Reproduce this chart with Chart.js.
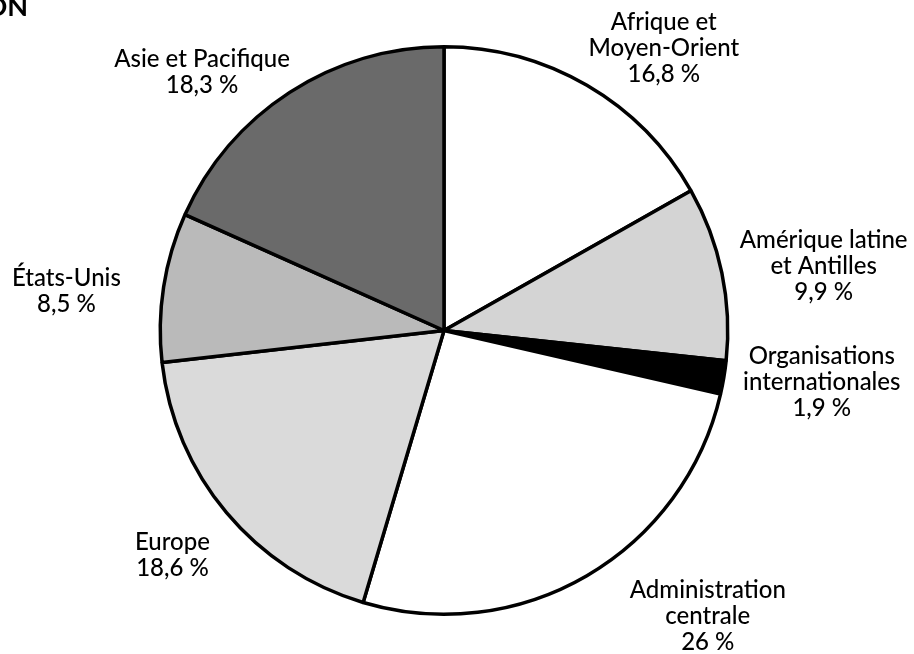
<!DOCTYPE html>
<html>
<head>
<meta charset="utf-8">
<script src="https://cdn.jsdelivr.net/npm/chart.js@4/dist/chart.umd.min.js"></script>
<style>
  html, body { margin: 0; padding: 0; background: #ffffff; }
  #wrap { width: 914px; height: 654px; position: relative; }
</style>
</head>
<body>
<div id="wrap"><canvas id="c" width="914" height="654"></canvas></div>
<script>
// ---- data (clockwise from 12 o'clock) ----
const categories = [
  ["Afrique et", "Moyen-Orient"],
  ["Amérique latine", "et Antilles"],
  ["Organisations", "internationales"],
  ["Administration", "centrale"],
  ["Europe"],
  ["États-Unis"],
  ["Asie et Pacifique"]
];
const shares = [16.8, 9.9, 1.9, 26, 18.6, 8.5, 18.3];
const shareLabels = ["16,8 %", "9,9 %", "1,9 %", "26 %", "18,6 %", "8,5 %", "18,3 %"];
const titleText = "ON";

// ---- styles ----
const sliceColors = ["#ffffff", "#d4d4d4", "#000000", "#ffffff", "#dadada", "#bababa", "#6a6a6a"];
// label placement: angular shift (deg) from slice mid-angle, and distance as a fraction of radius
const labelAngleShift = [7.7, 2.1, -1.7, -12.5, 0.3, -2.9, -10.2];
const labelDistance = [1.26, 1.357, 1.344, 1.37, 1.243, 1.338, 1.247];
const FONT = "Lato, 'Open Sans', sans-serif";
const FONT_SIZE = 24;
const LINE_H = 26;

const labelPlugin = {
  id: 'sliceLabels',
  afterDraw(chart) {
    const ctx = chart.ctx;
    const meta = chart.getDatasetMeta(0);
    ctx.save();
    ctx.fillStyle = '#000';
    ctx.font = `500 ${FONT_SIZE}px ${FONT}`;
    ctx.textAlign = 'center';
    ctx.textBaseline = 'middle';
    meta.data.forEach((arc, i) => {
      const p = arc.getProps(['x', 'y', 'startAngle', 'endAngle', 'outerRadius'], true);
      const mid = (p.startAngle + p.endAngle) / 2 + labelAngleShift[i] * Math.PI / 180;
      const r = p.outerRadius * labelDistance[i];
      const cx = p.x + Math.cos(mid) * r;
      const cy = p.y + Math.sin(mid) * r;
      const lines = categories[i].concat([shareLabels[i]]);
      const top = cy - (lines.length - 1) * LINE_H / 2;
      lines.forEach((t, k) => ctx.fillText(t, cx, top + k * LINE_H));
    });
    // cropped title fragment at top-left
    ctx.font = `bold 27px ${FONT}`;
    ctx.textAlign = 'right';
    ctx.textBaseline = 'alphabetic';
    ctx.fillText(titleText, 28, 16);
    ctx.restore();
  }
};

new Chart(document.getElementById('c'), {
  type: 'pie',
  data: {
    labels: categories.map(c => c.join(' ')),
    datasets: [{
      data: shares,
      backgroundColor: sliceColors,
      borderColor: '#000000',
      borderWidth: 3.5
    }]
  },
  options: {
    responsive: false,
    animation: false,
    rotation: 0,
    layout: { padding: { left: 158, right: 184, top: 45, bottom: 38 } },
    plugins: {
      legend: { display: false },
      tooltip: { enabled: false },
      title: { display: false }
    }
  },
  plugins: [labelPlugin]
});
</script>
</body>
</html>
